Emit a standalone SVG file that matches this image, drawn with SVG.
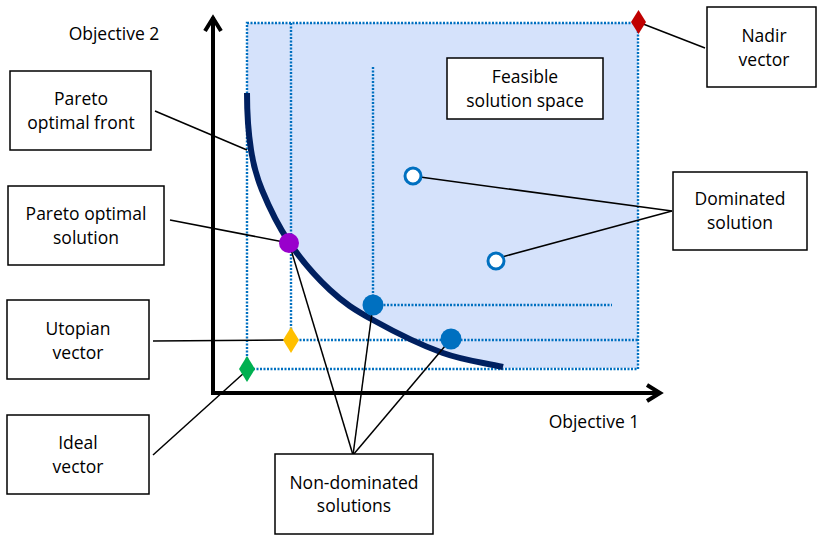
<svg xmlns="http://www.w3.org/2000/svg" width="818" height="535" viewBox="0 0 818 535">
<style>
.box{fill:#fff;stroke:#000;stroke-width:1.5}
.t{font-family:"Open Sans","Noto Sans","Liberation Sans",sans-serif;font-size:17.5px;fill:#000;text-anchor:middle}
.dot{fill:none;stroke:#0070C0;stroke-width:2.4;stroke-dasharray:2 1.5}
.con{fill:none;stroke:#000;stroke-width:1.5}
.ax{fill:none;stroke:#000;stroke-width:4}
</style>
<rect width="818" height="535" fill="#fff"/>
<g id="feasible-region">
<path d="M247,23 H638 V368 H503 C483,362.3 464.7,360.8 443,353 C421.3,345.2 391.8,330.5 373,320 C354.2,309.5 344,303 330,290 C316,277 300.3,258.7 289,242 C277.7,225.3 268.3,205.3 262,190 C255.7,174.7 253.5,166.2 251,150 C248.5,133.8 247,112 247,93 Z" fill="#D5E2FB"/>
</g>
<g id="dotted-lines">
<rect class="dot" x="247" y="23" width="391" height="346"/>
<path class="dot" d="M291,23 V340 H638"/>
<path class="dot" d="M373,67 V305 H612"/>
</g>
<g id="pareto-front">
<path d="M247,93 C247,112 248.5,133.8 251,150 C253.5,166.2 255.7,174.7 262,190 C268.3,205.3 277.7,225.3 289,242 C300.3,258.7 316,277 330,290 C344,303 354.2,309.5 373,320 C391.8,330.5 421.3,345.2 443,353 C464.7,360.8 483,362.3 503,367" fill="none" stroke="#002060" stroke-width="6"/>
</g>
<g id="axes">
<path class="ax" d="M213,17 V393 H660"/>
<path class="ax" d="M205,31 L213,18 L221,31" stroke-linejoin="miter"/>
<path class="ax" d="M647,385 L660,393 L647,401" stroke-linejoin="miter"/>
<text class="t" x="114" y="40">Objective 2</text>
<text class="t" x="594" y="428">Objective 1</text>
</g>
<g id="connectors">
<line class="con" x1="155" y1="111" x2="247" y2="150"/>
<line class="con" x1="170" y1="220" x2="289" y2="243"/>
<line class="con" x1="153" y1="341" x2="285" y2="340"/>
<line class="con" x1="153" y1="455" x2="245" y2="372"/>
<line class="con" x1="705" y1="48" x2="638" y2="22"/>
<line class="con" x1="672" y1="211" x2="420" y2="177"/>
<line class="con" x1="672" y1="211" x2="502" y2="257"/>
<line class="con" x1="353" y1="455" x2="289" y2="243"/>
<line class="con" x1="353" y1="455" x2="373" y2="305"/>
<line class="con" x1="353" y1="455" x2="451" y2="339"/>
</g>
<g id="points">
<circle cx="289" cy="243" r="10" fill="#9900CC"/>
<circle cx="373" cy="305" r="10.5" fill="#0070C0"/>
<circle cx="451" cy="339" r="10.5" fill="#0070C0"/>
<circle cx="413" cy="176" r="8" fill="#fff" stroke="#0070C0" stroke-width="3"/>
<circle cx="496" cy="261" r="8" fill="#fff" stroke="#0070C0" stroke-width="3"/>
<polygon points="291,327 299,340 291,353 283,340" fill="#FFC000"/>
<polygon points="247,356 255,369 247,382 239,369" fill="#00B050"/>
<polygon points="638.5,10 646,22 638.5,34 631,22" fill="#C00000"/>
</g>
<g id="node-feasible">
<rect class="box" x="447" y="58" width="156" height="61"/>
<text class="t" x="525" y="83">Feasible</text>
<text class="t" x="525" y="107">solution space</text>
</g>
<g id="node-pareto-front">
<rect class="box" x="10" y="71" width="141" height="79"/>
<text class="t" x="81" y="105">Pareto</text>
<text class="t" x="81" y="129">optimal front</text>
</g>
<g id="node-pareto-solution">
<rect class="box" x="8" y="186" width="156" height="79"/>
<text class="t" x="86" y="220">Pareto optimal</text>
<text class="t" x="86" y="244">solution</text>
</g>
<g id="node-utopian">
<rect class="box" x="7" y="300" width="142" height="79"/>
<text class="t" x="78" y="335">Utopian</text>
<text class="t" x="78" y="359">vector</text>
</g>
<g id="node-ideal">
<rect class="box" x="7" y="415" width="142" height="79"/>
<text class="t" x="78" y="449">Ideal</text>
<text class="t" x="78" y="473">vector</text>
</g>
<g id="node-nadir">
<rect class="box" x="707" y="7" width="109" height="80"/>
<text class="t" x="764" y="42">Nadir</text>
<text class="t" x="764" y="66">vector</text>
</g>
<g id="node-dominated">
<rect class="box" x="673" y="172" width="134" height="78"/>
<text class="t" x="740" y="205">Dominated</text>
<text class="t" x="740" y="229">solution</text>
</g>
<g id="node-non-dominated">
<rect class="box" x="275" y="454" width="158" height="80"/>
<text class="t" x="354" y="489">Non-dominated</text>
<text class="t" x="354" y="512">solutions</text>
</g>
</svg>
